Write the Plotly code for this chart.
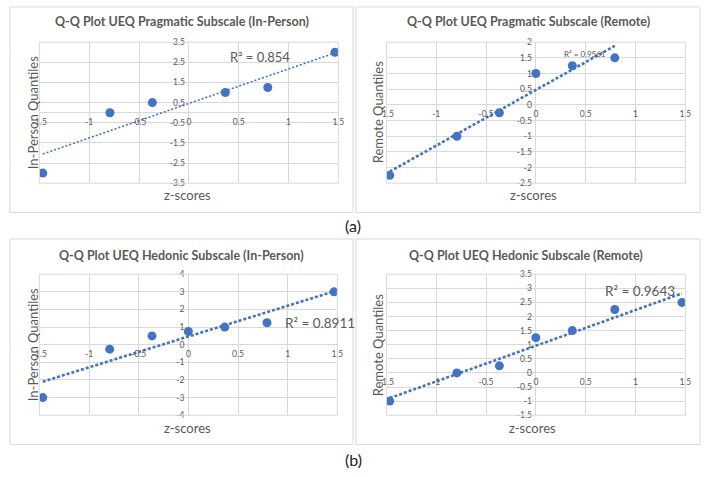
import numpy as np
import plotly.graph_objects as go

W, H = 708, 477

# ---------------- data ----------------
z_tl = [-1.466, -0.792, -0.366, 0.366, 0.792, 1.466]
q_tl = [-3.0, 0.0, 0.5, 1.0, 1.25, 3.0]

z_tr = [-1.466, -0.792, -0.366, 0.0, 0.366, 0.792]
q_tr = [-2.25, -1.0, -0.25, 1.0, 1.25, 1.5]

z_bl = [-1.466, -0.792, -0.366, 0.0, 0.366, 0.792, 1.466]
q_bl = [-3.0, -0.25, 0.5, 0.75, 1.0, 1.25, 3.0]

z_br = [-1.466, -0.792, -0.366, 0.0, 0.366, 0.792, 1.466]
q_br = [-1.0, 0.0, 0.25, 1.25, 1.5, 2.25, 2.5]

titles = ["Q-Q Plot UEQ Pragmatic Subscale (In-Person)",
          "Q-Q Plot UEQ Pragmatic Subscale (Remote)",
          "Q-Q Plot UEQ Hedonic Subscale (In-Person)",
          "Q-Q Plot UEQ Hedonic Subscale (Remote)"]
ytitles = ["In-Person Quantiles", "Remote Quantiles", "In-Person Quantiles", "Remote Quantiles"]
xtitle = "z-scores"
r2_labels = ["R² = 0.854", "R² = 0.9561", "R² = 0.8911", "R² = 0.9643"]
panel_labels = ["(a)", "(b)"]

x_ticks = [-1.5, -1, -0.5, 0, 0.5, 1, 1.5]
x_ticktext = ["-1.5", "-1", "-0.5", "0", "0.5", "1", "1.5"]
y_ticks_tl = [-3.5, -2.5, -1.5, -0.5, 0.5, 1.5, 2.5, 3.5]
y_ticks_tr = [-2.5, -2, -1.5, -1, -0.5, 0, 0.5, 1, 1.5, 2]
y_ticks_bl = [-4, -3, -2, -1, 0, 1, 2, 3, 4]
y_ticks_br = [-1.5, -1, -0.5, 0, 0.5, 1, 1.5, 2, 2.5, 3, 3.5]

# ---------------- layout helpers ----------------
def px(x):
    return x / W

def py(y):
    return 1 - y / H

BLUE = "#4472C4"
GRAY = "#595959"
GRID = "#d9d9d9"
FONT = "Lato, 'Open Sans', sans-serif"

panels = [
    dict(z=z_tl, q=q_tl, yt=y_ticks_tl, xd=(32, 337), yd=(38, 182), lw=1.6, dash="2px,2px",
         r2=(257, 53, 13)),
    dict(z=z_tr, q=q_tr, yt=y_ticks_tr, xd=(386, 691), yd=(38, 182), lw=2.6, dash="3px,2px",
         r2=(589, 50, 8)),
    dict(z=z_bl, q=q_bl, yt=y_ticks_bl, xd=(32, 336), yd=(275, 419), lw=2.6, dash="3px,2px",
         r2=(318, 325, 13.5)),
    dict(z=z_br, q=q_br, yt=y_ticks_br, xd=(386, 691), yd=(275, 419), lw=2.6, dash="3px,2px",
         r2=(645, 292, 13.5)),
]
title_pos = [(177, 17), (531, 17), (177, 256), (528, 256)]
ytitle_pos = [(25, 110), (377, 110), (25, 347), (377, 348)]
xtitle_pos = [(183, 194), (536, 194), (183, 432), (535, 432)]
boxes = [(2, 2, 352, 212), (355, 2, 706, 212), (2, 239, 352, 449), (355, 239, 706, 449)]

fig = go.Figure()
layout = dict(width=W, height=H, margin=dict(l=0, r=0, t=0, b=0),
              paper_bgcolor="white", plot_bgcolor="white", showlegend=False,
              font=dict(family=FONT, color=GRAY))
annotations = []
shapes = []

for i, p in enumerate(panels):
    k = "" if i == 0 else str(i + 1)
    xa, ya = "x" + k, "y" + k
    xd = [px(p["xd"][0]), px(p["xd"][1])]
    yd = [py(p["yd"][1]), py(p["yd"][0])]
    ylo, yhi = min(p["yt"]), max(p["yt"])
    xlo, xhi = -1.5, 1.5
    # position of the crossing axes (value 0) in paper coordinates
    xpos = yd[0] + (0 - ylo) / (yhi - ylo) * (yd[1] - yd[0])
    ypos = xd[0] + (0 - xlo) / (xhi - xlo) * (xd[1] - xd[0])

    layout["xaxis" + k] = dict(domain=xd, range=[xlo, xhi], anchor="free", position=xpos,
                               tickvals=x_ticks, ticktext=x_ticktext, showgrid=True,
                               gridcolor=GRID, gridwidth=1, zeroline=False, showline=False,
                               ticks="", tickfont=dict(size=8.5, color=GRAY, family=FONT),
                               fixedrange=True, ticklabelstandoff=3)
    layout["yaxis" + k] = dict(domain=yd, range=[ylo, yhi], anchor="free", position=ypos,
                               tickvals=p["yt"], ticktext=[("%g" % v) for v in p["yt"]],
                               showgrid=True, gridcolor=GRID, gridwidth=1,
                               zeroline=True, zerolinecolor=GRID, zerolinewidth=1,
                               showline=False, ticks="",
                               tickfont=dict(size=8.5, color=GRAY, family=FONT),
                               fixedrange=True, ticklabelstandoff=4)

    z = np.array(p["z"])
    q = np.array(p["q"])
    slope, icpt = np.polyfit(z, q, 1)
    tx = np.array([z.min(), z.max()])
    fig.add_trace(go.Scatter(x=tx, y=slope * tx + icpt, mode="lines",
                             line=dict(color=BLUE, width=p["lw"], dash=p["dash"]),
                             xaxis=xa, yaxis=ya, hoverinfo="skip"))
    fig.add_trace(go.Scatter(x=p["z"], y=p["q"], mode="markers",
                             marker=dict(color=BLUE, size=9),
                             xaxis=xa, yaxis=ya))

    # plot-area border
    shapes.append(dict(type="rect", xref=xa + " domain", yref=ya + " domain",
                       x0=0, x1=1, y0=0, y1=1, line=dict(color=GRID, width=1)))
    # chart-area border
    bx0, by0, bx1, by1 = boxes[i]
    shapes.append(dict(type="rect", xref="paper", yref="paper",
                       x0=px(bx0), x1=px(bx1), y0=py(by1), y1=py(by0),
                       line=dict(color=GRID, width=1)))

    tx_, ty_ = title_pos[i]
    annotations.append(dict(text="<b>" + titles[i] + "</b>", x=px(tx_), y=py(ty_),
                            xref="paper", yref="paper", showarrow=False,
                            xanchor="center", yanchor="middle",
                            font=dict(size=12.5, color=GRAY, family=FONT)))
    ax_, ay_ = ytitle_pos[i]
    annotations.append(dict(text=ytitles[i], x=px(ax_), y=py(ay_), textangle=-90,
                            xref="paper", yref="paper", showarrow=False,
                            xanchor="center", yanchor="middle",
                            font=dict(size=13, color=GRAY, family=FONT)))
    zx_, zy_ = xtitle_pos[i]
    annotations.append(dict(text=xtitle, x=px(zx_), y=py(zy_),
                            xref="paper", yref="paper", showarrow=False,
                            xanchor="center", yanchor="middle",
                            font=dict(size=13, color=GRAY, family=FONT)))
    rx, ry, rs = p["r2"]
    annotations.append(dict(text=r2_labels[i], x=px(rx), y=py(ry),
                            xref="paper", yref="paper", showarrow=False,
                            xanchor="center", yanchor="middle",
                            font=dict(size=rs, color=GRAY, family=FONT)))

annotations.append(dict(text=panel_labels[0], x=px(352), y=py(225), xref="paper", yref="paper",
                        showarrow=False, xanchor="center", yanchor="middle",
                        font=dict(size=16, color="#222222", family=FONT)))
annotations.append(dict(text=panel_labels[1], x=px(352), y=py(464), xref="paper", yref="paper",
                        showarrow=False, xanchor="center", yanchor="middle",
                        font=dict(size=16, color="#222222", family=FONT)))

layout["annotations"] = annotations
layout["shapes"] = shapes
fig.update_layout(**layout)
fig.write_html("out.html", config={"displayModeBar": False},
               post_script="document.body.style.margin='0px';document.body.style.overflow='hidden';")
